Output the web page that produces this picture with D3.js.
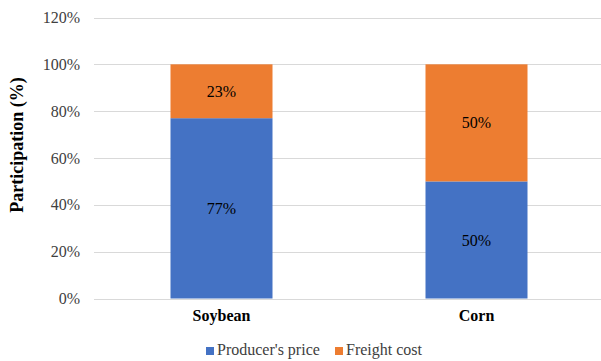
<!DOCTYPE html>
<html><head><meta charset="utf-8">
<script src="https://cdn.jsdelivr.net/npm/d3@7"></script>
</head><body style="margin:0;background:#fff">
<svg id="chart" width="601" height="361"></svg>
<script>
const categories = ["Soybean", "Corn"];
const seriesNames = ["Producer's price", "Freight cost"];
const producerPrice = [77, 50];
const freightCost = [23, 50];
const yTicks = [0, 20, 40, 60, 80, 100, 120];
const colors = ["#4472C4", "#ED7D31"];
const FONT = '"Liberation Serif", monospace';

const svg = d3.select("#chart");
const x = d3.scaleBand().domain(categories).range([94, 604]).paddingInner(0.6).paddingOuter(0.3);
const y = d3.scaleLinear().domain([0, 120]).range([298.5, 17.5]);

// gridlines
svg.append("g").selectAll("line").data(yTicks).join("line")
  .attr("x1", 94).attr("x2", 601)
  .attr("y1", d => Math.round(y(d)) + 0.5).attr("y2", d => Math.round(y(d)) + 0.5)
  .attr("stroke", "#d9d9d9").attr("stroke-width", 1);

// y tick labels
svg.append("g").selectAll("text").data(yTicks).join("text")
  .style("font-family", FONT)
  .attr("x", 80).attr("y", d => y(d)).attr("dy", "0.35em")
  .attr("text-anchor", "end").attr("font-size", 16).attr("fill", "#404040")
  .text(d => d + "%");

const data = categories.map((c, i) => ({cat: c, vals: [producerPrice[i], freightCost[i]]}));
const stacked = d3.stack().keys([0, 1]).value((d, k) => d.vals[k])(data);

const segs = svg.append("g").selectAll("g").data(stacked).join("g")
  .attr("fill", (d, i) => colors[i]);
segs.selectAll("rect").data(d => d).join("rect")
  .attr("x", d => x(d.data.cat)).attr("width", x.bandwidth())
  .attr("y", d => y(d[1])).attr("height", d => y(d[0]) - y(d[1]));

// value labels
const lbl = svg.append("g");
stacked.forEach(s => {
  s.forEach(d => {
    lbl.append("text")
      .style("font-family", FONT)
      .attr("x", x(d.data.cat) + x.bandwidth() / 2)
      .attr("y", y((d[0] + d[1]) / 2)).attr("dy", "0.35em")
      .attr("text-anchor", "middle").attr("font-size", 16).attr("fill", "#000")
      .text((d[1] - d[0]) + "%");
  });
});

// category labels
svg.append("g").selectAll("text").data(categories).join("text")
  .style("font-family", FONT)
  .attr("x", d => x(d) + x.bandwidth() / 2).attr("y", 321)
  .attr("text-anchor", "middle").attr("font-size", 16).attr("font-weight", "bold")
  .text(d => d);

// y-axis title
svg.append("text")
  .style("font-family", FONT)
  .attr("transform", "translate(23,145) rotate(-90)")
  .attr("text-anchor", "middle").attr("font-size", 18).attr("font-weight", "bold")
  .text("Participation (%)");

// legend
const legendX = [206, 335];
const leg = svg.append("g").selectAll("g").data(seriesNames).join("g")
  .attr("transform", (d, i) => `translate(${legendX[i]},0)`);
leg.append("rect").attr("x", 0).attr("y", 347).attr("width", 8).attr("height", 8)
  .attr("fill", (d, i) => colors[i]);
leg.append("text").style("font-family", FONT).attr("x", 11).attr("y", 355).attr("font-size", 16).attr("fill", "#404040")
  .text(d => d);
</script>
</body></html>
